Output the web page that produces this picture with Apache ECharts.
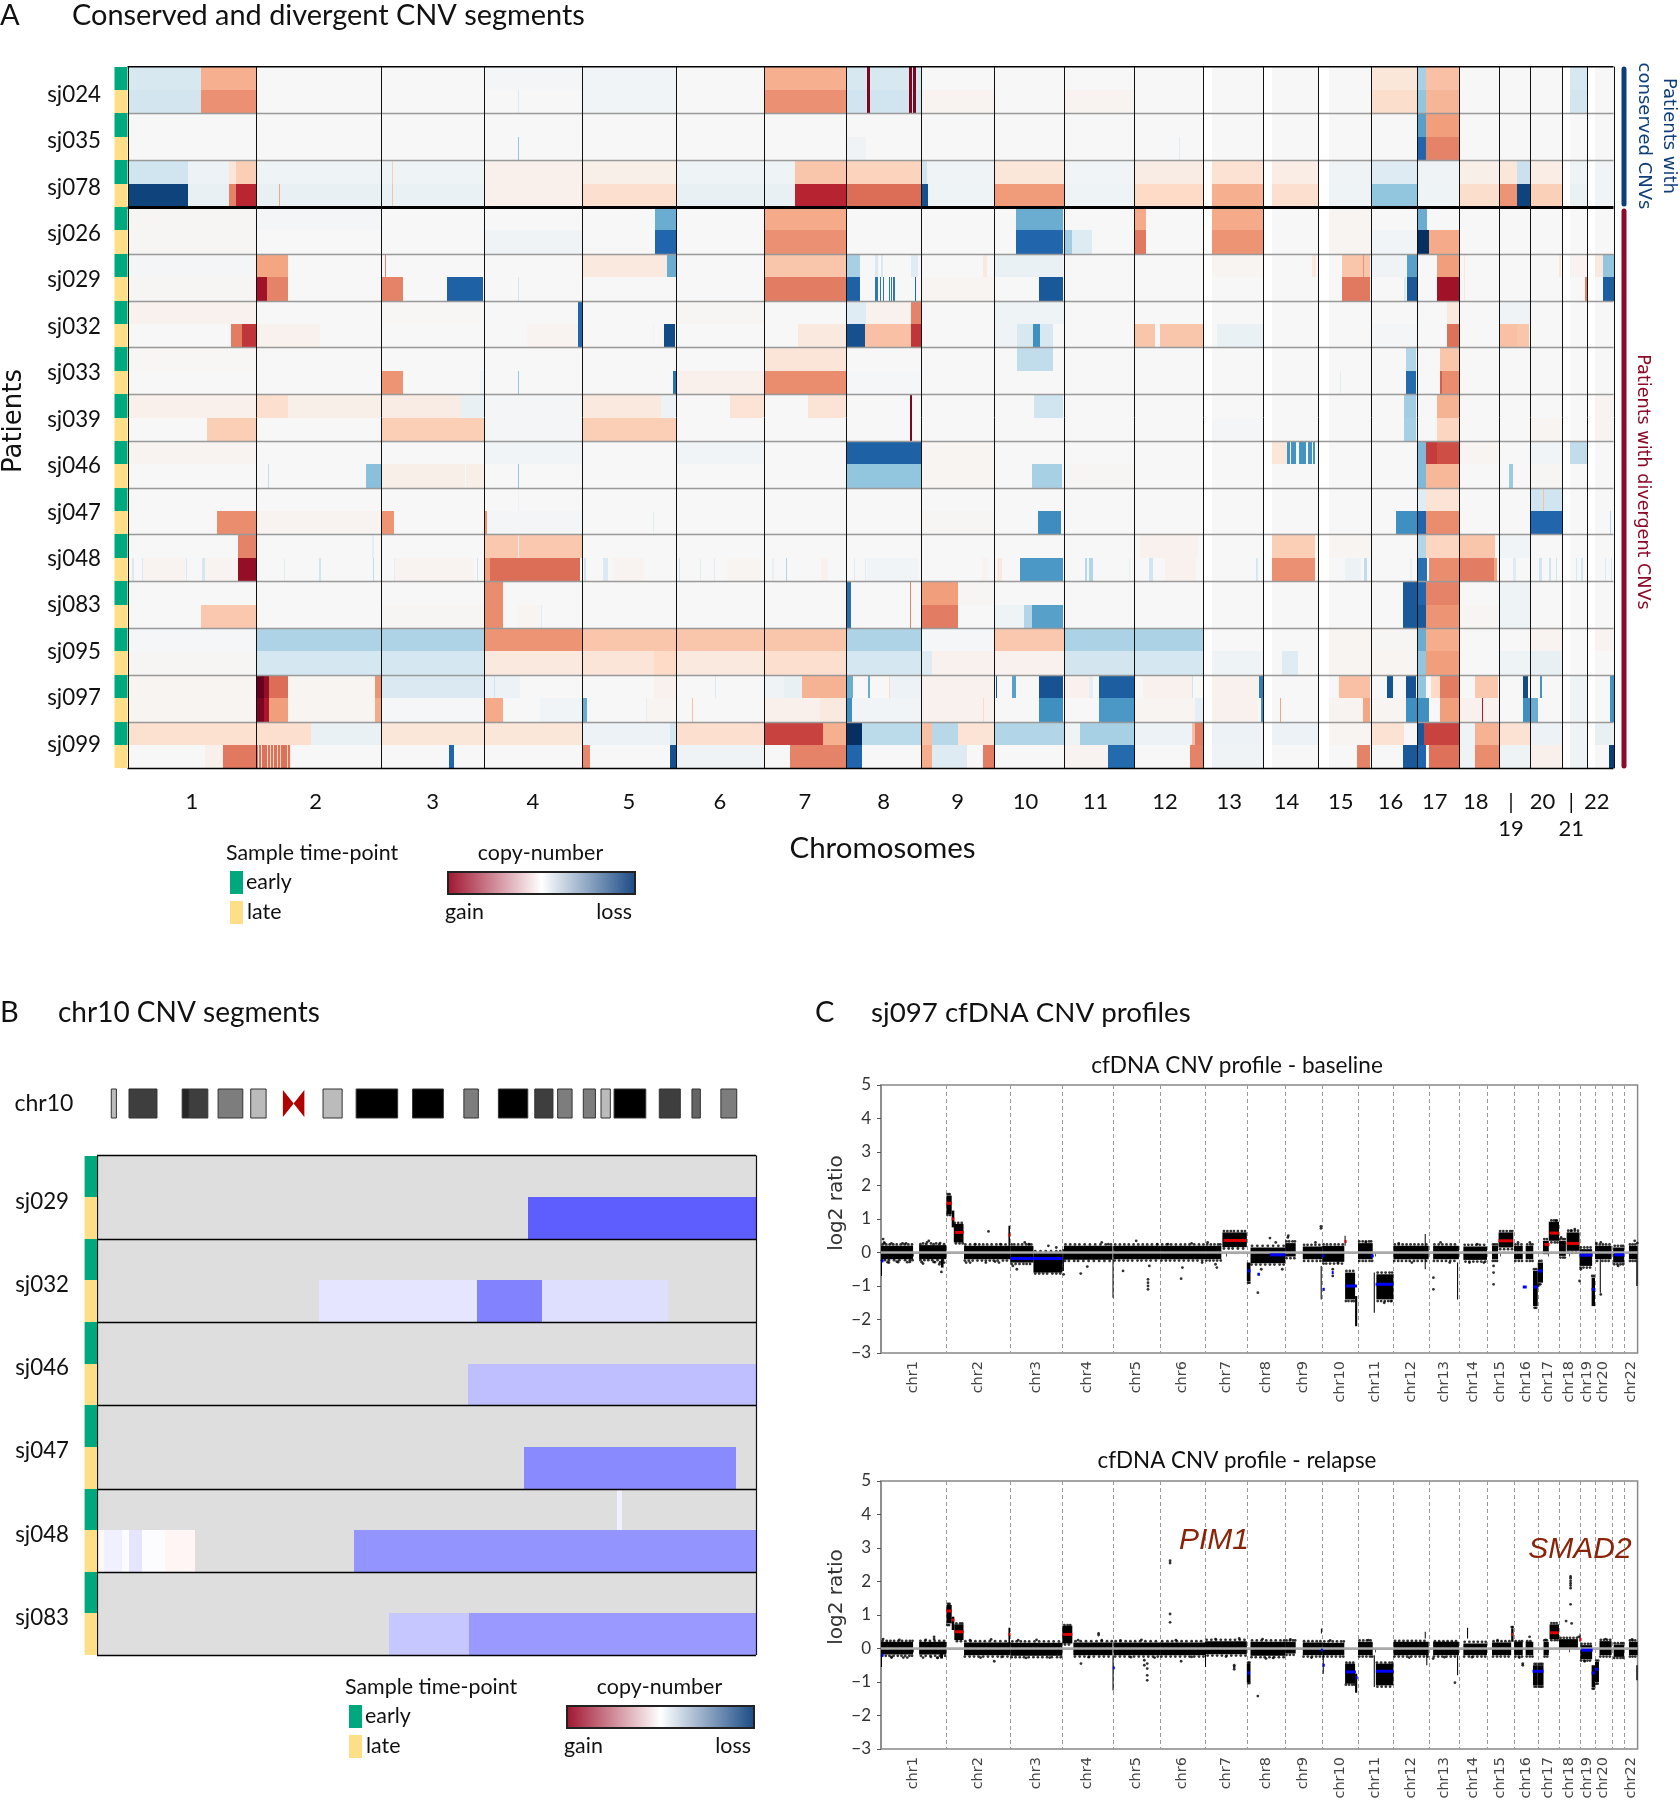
<!DOCTYPE html>
<html>
<head>
<meta charset="utf-8">
<script src="https://cdn.jsdelivr.net/npm/echarts@6/dist/echarts.min.js"></script>
<style>
  html, body { margin: 0; padding: 0; background: #fff; }
  #chart-container { width: 1680px; height: 1800px; }
</style>
</head>
<body>
<div id="chart-container"></div>
<script>
// chromosome lengths in Mb, and the unmapped start of the acrocentric ones
const chrNames = ['1','2','3','4','5','6','7','8','9','10','11','12','13','14','15','16','17','18','19','20','21','22']
const chrLengths = [249,243,198,191,181,171,159,146,141,136,135,134,115,107,103,90,81,78,59,63,48,51]
const chrGaps = [0,0,0,0,0,0,0,0,0,0,0,0,17,18,21,0,0,0,0,0,14,16]

const patients = ['sj024','sj035','sj078','sj026','sj029','sj032','sj033','sj039','sj046','sj047','sj048','sj083','sj095','sj097','sj099']
const conservedCount = 3
const timePoints = ['early','late']

// panel A: one list per sample. [chr, value] = whole chromosome, [chr, startMb, endMb, value] = segment
// value: +1 strong gain ... 0 neutral ... -1 strong loss
const sampleSegments = [
  // sj024 early
  [[1,0,142,-.17],[1,142,249,.36],[4,-.02],[5,-.03],[7,.36],[8,-.17],[8,40,46,.95],[8,123,128,.95],[8,130,136,.95],[16,.12],[17,0,16,-.33],[17,16,81,.3],[21,14,48,-.17]],
  // sj024 late
  [[1,0,142,-.19],[1,142,249,.46],[4,66,68,-.15],[5,-.03],[7,.46],[8,-.2],[8,40,46,.95],[8,123,128,.95],[8,130,136,.95],[9,.03],[11,.03],[16,.18],[17,0,16,-.4],[17,16,81,.34],[21,14,48,-.19]],
  // sj035 early
  [[17,0,16,-.55],[17,16,81,.42]],
  // sj035 late
  [[4,66,68,-.4],[8,0,38,-.04],[17,0,16,-.8],[17,16,81,.5],[12,88,90,-.12]],
  // sj078 early
  [[1,0,118,-.2],[1,118,197,-.06],[1,197,211,.12],[1,211,249,.25],[2,-.05],[3,-.05],[3,20,22,.25],[4,.05],[5,.06],[6,-.05],[7,0,61,-.05],[7,61,159,.28],[8,.23],[9,-.04],[9,0,10,-.2],[10,.12],[11,-.03],[12,.08],[13,.15],[14,.07],[15,-.04],[16,-.13],[17,-.04],[18,.06],[19,0,34,.12],[19,34,59,-.22],[20,.07],[21,-.05],[22,-.03]],
  // sj078 late
  [[1,0,118,-.93],[1,118,197,-.08],[1,197,211,.5],[1,211,249,.76],[2,-.08],[2,45,47,.4],[3,-.07],[3,20,22,.3],[4,.05],[5,.17],[6,-.08],[7,0,61,-.08],[7,61,159,.77],[8,.56],[9,-.05],[9,0,12,-.88],[10,.43],[11,-.05],[12,.2],[13,.36],[14,.17],[15,-.05],[16,-.4],[17,-.05],[18,.18],[19,0,34,.45],[19,34,59,-.93],[20,.24],[21,-.07],[22,-.03]],
  // sj026 early
  [[1,.015],[2,-.02],[5,141,181,-.5],[7,.38],[10,42,133,-.5],[12,0,24,.38],[13,.38],[15,.02],[17,0,19,-.5]],
  // sj026 late
  [[1,.015],[4,-.04],[5,141,181,-.8],[7,.46],[10,42,133,-.8],[11,0,15,-.35],[11,15,54,-.13],[12,0,24,.53],[13,.45],[15,.02],[16,-.03],[17,0,23,-1],[17,23,81,.38]],
  // sj029 early
  [[1,-.02],[2,0,62,.4],[3,7,9,.5],[5,0,165,.1],[5,165,181,-.5],[7,0,3,.7],[7,3,159,.28],[8,0,28,-.33],[8,57,62,-.15],[8,67,72,-.15],[8,126,140,-.12],[9,120,127,.1],[10,0,133,-.07],[13,.02],[14,96,104,.1],[15,47,101,.28],[15,88,90,.45],[16,0,70,-.04],[16,70,90,-.55],[17,38,81,.42],[18,9,11,.12],[20,57,60,.12],[21,.03],[22,16,30,.1],[22,30,51,-.4]],
  // sj029 late
  [[1,.015],[2,0,22,.85],[2,22,62,.5],[3,0,42,.5],[3,127,197,-.82],[4,66,68,-.2],[7,.52],[8,0,28,-.82],[8,57,62,-.72],[8,66,68,-.72],[8,72,74,-.72],[8,83,85,-.72],[8,87,89,-.72],[8,92,94,-.72],[8,133,136,-.8],[9,.02],[10,86,133,-.85],[15,47,101,.53],[16,65,68,-.15],[16,70,90,-.85],[17,38,81,.85],[18,9,11,.12],[21,43,47,.5],[22,30,51,-.83]],
  // sj032 early
  [[1,.04],[3,.01],[4,183,191,-.8],[6,.015],[8,0,38,-.12],[8,38,125,.04],[8,125,146,.5],[10,-.05],[17,58,81,.1],[19,-.04]],
  // sj032 late
  [[1,200,221,.52],[1,221,249,.72],[2,0,124,.04],[4,84,183,.03],[4,183,191,-.8],[5,138,140,.05],[5,158,180,-.9],[7,66,159,.1],[8,0,37,-.88],[8,37,125,.3],[8,125,146,.72],[10,0,44,-.04],[10,44,115,-.17],[10,75,88,-.62],[12,0,40,.28],[12,50,134,.28],[13,27,115,-.07],[16,-.02],[17,58,81,.55],[19,0,34,.3],[19,34,57,.28]],
  // sj033 early
  [[1,.01],[7,.13],[10,44,115,-.25],[16,68,87,-.3],[17,43,81,.28]],
  // sj033 late
  [[3,0,42,.45],[3,190,198,-.04],[4,66,68,-.4],[5,175,181,-.75],[6,.05],[7,.47],[8,-.01],[15,44,46,-.1],[16,68,87,-.78],[17,43,81,.47],[17,44,47,.6]],
  // sj039 early
  [[1,.05],[2,0,62,.17],[2,62,243,.06],[3,0,154,.08],[3,154,198,-.08],[4,-.02],[5,0,152,.1],[5,152,181,-.06],[6,106,171,.14],[7,86,159,.14],[8,124,127,.95],[10,77,133,-.2],[16,64,88,-.35],[17,38,81,.35],[22,.03]],
  // sj039 late
  [[1,154,249,.25],[3,.25],[4,-.02],[5,.25],[8,124,127,.95],[13,-.02],[16,64,88,-.33],[17,38,81,.22],[20,.02],[22,.03]],
  // sj046 early
  [[1,.03],[4,-.03],[6,-.03],[8,-.82],[9,.02],[14,18,47,.12],[14,47,53,-.6],[14,56,65,-.6],[14,71,85,-.6],[14,88,95,-.6],[14,98,102,-.6],[17,0,16,-.45],[17,16,38,.7],[17,38,81,.65],[18,.02],[20,-.03],[21,14,48,-.25]],
  // sj046 late
  [[2,24,26,-.25],[2,214,243,-.42],[3,0,161,.06],[3,164,198,.06],[4,66,68,-.4],[8,-.4],[9,.02],[10,74,132,-.33],[11,.015],[17,0,16,-.45],[17,16,81,.33],[19,18,26,-.37],[20,.015]],
  // sj047 early
  [[4,66,68,-.06],[17,0,16,-.12],[17,16,81,.14],[20,-.2],[20,26,28,.3]],
  // sj047 late
  [[1,174,249,.47],[2,.03],[3,0,24,.45],[4,0,6,.45],[4,6,191,-.02],[5,138,140,-.1],[9,.015],[10,85,129,-.63],[16,48,90,-.62],[17,0,16,-.8],[17,16,81,.47],[20,-.8],[22,44,46,-.3]],
  // sj048 early
  [[1,214,249,.5],[2,225,228,-.1],[4,.27],[4,66,68,-.1],[12,12,124,.04],[14,18,102,.25],[15,.02],[17,0,16,-.3],[17,16,81,.22],[18,0,69,.28],[19,-.03]],
  // sj048 late
  [[1,8,12,-.15],[1,28,30,-.15],[1,30,112,.03],[1,113,115,-.15],[1,145,150,-.18],[1,150,214,.03],[1,214,249,.88],[2,55,57,-.1],[2,122,125,-.2],[2,226,229,-.25],[3,24,27,-.1],[3,110,113,-.2],[3,185,188,-.2],[3,27,180,.03],[4,0,12,.42],[4,12,187,.56],[5,3,8,-.2],[5,40,49,-.15],[5,60,120,.03],[6,6,8,-.2],[6,48,50,-.1],[6,74,76,-.1],[6,100,165,.02],[7,42,45,-.3],[7,15,20,-.08],[7,110,125,.04],[8,15,17,-.12],[8,36,39,-.12],[8,84,89,-.32],[8,40,140,-.03],[9,118,130,.03],[10,5,15,.1],[10,51,133,-.58],[11,40,43,-.28],[11,47,55,-.3],[11,125,128,-.1],[12,30,37,-.2],[12,60,120,.04],[13,102,107,-.18],[14,18,102,.46],[15,52,84,-.06],[15,90,96,-.25],[16,76,80,-.08],[17,0,18,-.75],[17,22,81,.47],[18,0,67,.52],[18,67,74,.4],[19,26,32,-.12],[20,18,23,-.2],[20,38,41,-.2],[20,50,53,-.2],[21,26,29,-.18],[21,36,39,-.18],[22,34,36,-.15],[22,46,48,-.2]],
  // sj083 early
  [[4,0,38,.47],[8,0,10,-.75],[8,124,126,.5],[9,0,71,.42],[9,71,141,.015],[16,63,90,-.85],[17,0,16,-.8],[17,16,81,.5],[19,-.05]],
  // sj083 late
  [[1,142,249,.27],[3,.015],[4,0,38,.47],[4,67,112,.02],[4,112,114,-.12],[8,0,10,-.75],[8,124,126,.5],[9,0,71,.52],[10,0,58,-.05],[10,58,73,-.3],[10,73,133,-.55],[16,63,90,-.85],[17,0,16,-.85],[17,16,81,.45],[18,.015],[19,-.05]],
  // sj095 early
  [[1,-.01],[2,-.31],[3,-.31],[4,.45],[5,.28],[6,.28],[7,.28],[8,-.31],[9,-.01],[10,.27],[11,-.32],[12,-.32],[15,.02],[16,.015],[17,0,16,-.5],[17,16,81,.37],[20,.03],[22,.03]],
  // sj095 late
  [[1,.015],[2,-.18],[3,-.18],[4,.1],[5,0,139,.13],[5,139,181,.2],[6,.1],[7,.17],[8,-.18],[9,0,21,-.12],[9,21,141,.04],[10,.04],[11,-.19],[12,-.18],[13,-.05],[14,37,68,-.12],[15,.02],[16,.02],[17,0,16,-.4],[17,16,81,.42],[19,-.05],[20,-.08]],
  // sj097 early
  [[1,.02],[2,0,16,1],[2,16,26,.88],[2,26,62,.56],[2,62,231,.02],[2,231,243,.45],[3,-.15],[4,0,70,-.06],[4,20,22,-.2],[5,139,181,.04],[6,76,78,-.15],[7,0,73,-.04],[7,38,73,-.08],[7,73,159,.35],[8,0,14,-.5],[8,42,47,-.5],[8,83,85,.2],[8,85,146,-.06],[9,.04],[10,4,6,-.85],[10,35,42,-.55],[10,86,133,-.87],[11,0,48,.04],[11,48,56,-.1],[11,67,135,-.83],[12,18,115,.04],[12,113,115,-.2],[13,17,107,.04],[13,109,115,-.7],[15,42,101,.3],[16,31,43,-.87],[16,68,87,-.87],[17,0,16,-.4],[17,26,43,.2],[17,43,81,.52],[18,30,75,.27],[19,46,56,-.9],[20,20,23,-.6],[21,-.05],[22,44,51,-.6]],
  // sj097 late
  [[1,.02],[2,0,16,.95],[2,16,26,.82],[2,26,62,.42],[2,62,231,.02],[2,231,243,.38],[3,-.01],[4,0,38,.38],[4,110,190,-.03],[5,0,10,-.5],[5,124,126,-.1],[5,126,181,.02],[6,32,34,.3],[7,0,109,.05],[7,109,159,.1],[8,0,12,-.62],[8,12,146,-.03],[9,.04],[9,120,122,.2],[10,86,133,-.62],[11,67,135,-.58],[12,118,134,-.1],[12,0,118,.02],[13,17,107,.04],[13,112,115,-.6],[14,33,35,.4],[15,21,88,.03],[15,88,101,.4],[16,0,68,.02],[16,68,90,-.62],[17,0,23,-.62],[17,43,81,.42],[18,0,44,.04],[18,44,46,.8],[18,46,78,.04],[19,46,59,-.62],[20,0,15,-.5],[21,-.05],[22,44,51,-.6]],
  // sj099 early
  [[1,.16],[2,0,107,.17],[2,107,243,-.07],[3,.12],[4,.12],[5,0,170,-.06],[5,170,181,-.18],[6,.17],[7,0,114,.68],[7,114,159,.36],[8,0,32,-1],[8,32,146,-.27],[9,0,20,.3],[9,20,71,-.28],[9,71,141,.14],[10,-.3],[11,0,30,-.05],[11,30,135,-.33],[12,0,112,-.06],[12,112,118,.3],[12,118,134,.52],[13,-.06],[14,-.06],[15,.02],[16,0,64,.15],[17,0,13,-.85],[17,13,81,.68],[18,0,30,-.05],[18,30,78,.35],[19,.15],[20,-.06],[21,-.05],[22,-.08]],
  // sj099 late
  [[1,150,185,.05],[1,185,249,.53],[2,0,68,.55],[2,4,6,.1],[2,9,11,.15],[2,22,24,.15],[2,27,29,.2],[2,32,33,.2],[2,40,41,.2],[2,46,47,.2],[2,60,62,.2],[2,66,68,.1],[3,130,141,-.8],[5,0,15,.48],[5,170,181,-.88],[6,-.04],[7,51,159,.5],[8,0,32,-.8],[9,0,20,.37],[9,20,89,-.13],[9,119,141,.52],[11,0,85,.03],[11,85,135,-.78],[12,108,134,.5],[13,-.04],[15,77,101,.5],[16,63,90,-.85],[17,0,16,-.8],[17,23,81,.55],[18,0,30,-.04],[18,30,78,.47],[19,-.05],[20,.05],[21,-.05],[22,43,51,-.95]]
]

// panel B: chr10 segments per sample row, [row, startMb, endMb, value], blue = loss
const chr10Patients = ['sj029','sj032','sj046','sj047','sj048','sj083']
const chr10Segments = [
  [1,88.6,135.5,.63],
  [3,45.6,78.2,.1],[3,78.2,91.5,.49],[3,91.5,117.4,.13],
  [5,76.3,135.5,.25],
  [7,87.7,131.4,.46],
  [8,106.9,108,.06],
  [9,.2,1.5,-.02],[9,1.5,5.2,.06],[9,5.2,6.6,.01],[9,6.6,9.2,.1],[9,9.2,13.9,.01],[9,13.9,20.1,-.04],[9,52.8,135.5,.42],
  [11,60,76.4,.22],[11,76.4,135.5,.4]
]
// chr10 ideogram: [startMb, endMb, stain percent]
const chr10Bands = [
  [.4,1.5,25],[4.2,10.2,75],[15.6,17.1,85],[17.1,21.1,75],[23.3,28.6,50],[30.3,33.6,25],[45.8,49.9,25],[52.9,61.8,100],[65,71.6,100],
  [76,79.1,50],[83.4,89.7,100],[91.2,95.1,75],[96.1,99.2,50],[101.6,104.2,50],[105.4,107.4,25],[108.2,115,100],[117.9,122.4,75],[124.9,126.7,60],[131.1,134.5,50]
]
const chr10Centromere = [37.2,41.8]

// panel C: dense bin clouds [chr, startMb, endMb, low, high]
const baselineBands = [
  [1,0,122,-.2,.2],[1,145,249,-.2,.22],[1,0,3,-.7,-.2],[1,228,238,-.45,-.2],
  [2,0,20,1.15,1.7],[2,20,30,.75,1.25],[2,28,65,.3,.85],[2,67,243,-.2,.2],[2,236,242,.2,.8],
  [3,0,88,-.3,.2],[3,88,198,-.6,0],
  [4,0,6,-.55,.1],[4,6,191,-.22,.2],
  [5,0,3,-1.35,-.2],[5,3,181,-.2,.2],
  [6,0,171,-.2,.2],
  [7,0,62,-.2,.2],[7,66,159,.16,.6],
  [8,0,14,-.85,-.3],[8,14,146,-.32,.15],
  [9,0,40,-.12,.28],[9,67,141,-.2,.18],[9,135,139,-1.4,-.4],
  [10,0,84,-.28,.2],[10,85,88,.2,.5],[10,87,125,-1.4,-.6],[10,125,133,-2.2,-1.3],
  [11,0,56,-.2,.28],[11,60,64,-1.8,-.6],[11,70,135,-1.4,-.65],
  [12,0,134,-.2,.2],[12,119,122,-.5,.55],
  [13,17,115,-.2,.2],[13,108,112,-1.4,-.3],
  [14,17,107,-.22,.18],
  [15,19,42,-.2,.2],[15,44,100,.15,.6],
  [16,0,33,-.2,.2],[16,44,73,-.2,.2],[16,72,90,-1.6,-.55],
  [17,0,20,-.9,-.3],[17,20,42,-.05,.35],[17,42,81,.35,.92],
  [18,0,26,-.1,.35],[18,29,78,.05,.6],
  [19,0,48,-.4,.1],[19,46,59,-1.6,-.75],
  [20,0,63,-.2,.2],[20,18,22,-1.2,-.2],
  [21,6,48,-.3,.15],
  [22,18,51,-.2,.2],[22,46,51,-1,-.2]
]
const relapseBands = [
  [1,0,122,-.18,.2],[1,145,249,-.18,.2],[1,0,3,-.55,-.1],[1,225,236,-.3,.2],
  [2,0,20,.75,1.3],[2,20,30,.55,.95],[2,30,65,.25,.72],[2,67,243,-.2,.18],[2,236,242,.15,.62],
  [3,0,198,-.22,.17],
  [4,0,38,.15,.68],[4,42,191,-.2,.18],
  [5,0,4,-1.25,-.2],[5,4,181,-.2,.18],
  [6,0,171,-.2,.18],
  [7,0,159,-.17,.22],[7,0,3,-.55,-.1],
  [8,0,14,-1,-.45],[8,14,146,-.22,.2],
  [9,0,40,-.15,.2],[9,67,141,-.2,.18],[9,136,139,.45,.6],
  [10,0,84,-.2,.17],[10,2,5,-.75,-.05],[10,87,125,-1.05,-.45],[10,125,133,-1.32,-.75],
  [11,0,56,-.2,.2],[11,60,64,-1.15,-.2],[11,68,135,-1.1,-.45],
  [12,0,134,-.2,.2],[12,125,128,-.5,-.05],[12,119,122,.3,.5],
  [13,17,115,-.2,.2],[13,108,112,-.8,-.2],
  [14,17,107,-.2,.15],[14,31,35,.3,.62],
  [15,19,92,-.2,.18],[15,92,101,.2,.6],
  [16,0,33,-.2,.2],[16,44,73,-.2,.2],[16,72,90,-1.1,-.5],
  [17,0,22,-1.1,-.5],[17,22,42,-.2,.2],[17,45,81,.28,.72],
  [18,0,72,0,.28],
  [19,0,3,.2,.45],[19,3,48,-.32,.1],[19,46,59,-1.15,-.5],
  [20,0,15,-1,-.4],[20,17,63,-.2,.22],
  [21,8,48,-.25,.12],
  [22,18,51,-.2,.2],[22,46,51,-.95,-.5]
]
// segment means [chr, startMb, endMb, log2 ratio]
const baselineMeans = [
  [1,2,5,-.25],[2,0,20,1.47],[2,20,30,1],[2,32,65,.6],[2,236,242,.52],[3,0,198,-.18],[7,70,157,.36],[8,1,14,-.55],[8,40,50,-.65],[8,88,146,-.07],
  [10,0,4,-.1],[10,2,6,-1.1],[10,36,42,-.6],[10,85,88,.33],[10,88,132,-1],[11,50,60,-.1],[11,67,135,-.95],[15,44,98,.35],[16,33,48,-1.03],[16,72,90,-1.03],
  [17,0,20,-.55],[17,25,45,.24],[17,45,81,.58],[18,29,76,.27],[19,0,50,-.08],[19,46,59,-1.1],[21,10,48,-.07]
]
const relapseMeans = [
  [1,2,5,-.2],[2,0,20,1.12],[2,20,30,.85],[2,32,65,.5],[2,236,242,.42],[4,3,38,.42],[5,1,8,-.58],[8,1,12,-.73],[9,136,141,-.05],[10,2,5,-.5],
  [10,87,128,-.7],[10,127,133,-.87],[11,68,135,-.68],[15,92,100,.42],[16,70,90,-.68],[17,0,22,-.68],[17,47,81,.47],[19,0,3,.27],[19,6,50,-.05],[19,46,59,-.73],[20,0,15,-.62]
]
// single bins outside the clouds [chr, Mb, log2 ratio]
const baselinePoints = [
  [1,8,.4],[1,12,.3],[1,30,-.3],[1,60,-.27],[1,95,.27],[1,110,-.28],[1,160,-.33],[1,175,.3],[1,182,.35],[1,200,-.28],[1,222,-.35],[1,230,-.58],[1,240,-.3],[1,225,.28],
  [2,75,-.3],[2,110,.25],[2,160,.63],[2,185,-.27],[2,205,.25],
  [3,10,-.4],[3,25,-.5],[3,55,.3],[3,70,.25],[3,145,.2],[3,175,.15],
  [4,5,-.65],[4,70,-.63],[4,95,-.42],[4,150,.3],[4,175,.25],
  [5,40,-.55],[5,90,.35],[5,135,-.8],[5,135,-.9],[5,135,-1],[5,135,-1.1],[5,140,-.4],[5,170,.25],
  [6,30,.25],[6,80,-.78],[6,85,-.45],[6,120,.27],[6,160,-.3],
  [7,40,-.35],[7,45,-.45],[7,10,.3],
  [8,42,-1.2],[8,55,-.5],[8,88,.43],[8,110,.3],[8,135,-.5],
  [9,10,.45],[9,12,.5],[9,115,.3],[9,136,.72],[9,136,.78],
  [10,40,-.5],[10,40,-.7],[10,60,-.3],
  [11,30,.3],[11,100,-1.5],[11,125,-1.45],
  [12,20,.27],[12,70,-.3],
  [13,18,-.75],[13,18,-1.1],[13,45,.3],[13,80,-.3],
  [14,40,-.3],[14,70,.25],[14,95,-.3],
  [15,25,-.4],[15,25,-.6],[15,25,-.95],
  [16,15,.3],[16,60,.3],
  [17,2,-1],[17,70,.95],[18,8,.45],[18,60,.7],[18,45,.65],
  [19,5,-.5],[19,0,-.85],[20,22,.3],[20,5,.28],[20,22,-1.25],
  [21,25,-.4],[22,40,.35],[22,50,.28]
]
const relapsePoints = [
  [6,38,2.62],[6,38,2.55],[6,38,1.03],[6,38,.78],
  [18,44,2.15],[18,44,2.1],[18,44,2.02],[18,44,1.95],[18,44,1.88],[18,44,1.8],[18,44,1.32],[18,27,.82],[18,48,.75],
  [4,138,.45],[4,138,.4],[2,182,-.38],[1,202,.35],[1,202,.28],
  [5,132,-.45],[5,132,-.6],[5,132,-.8],[5,132,-.95],[5,121,-.35],[5,121,-.5],
  [7,111,-.5],[7,111,-.55],[7,111,-.62],[8,42,-1.42],[4,71,-.45],[6,80,-.38],[13,100,-1.02],[13,17,-.3],[16,59,.35],[16,33,-.45],[16,33,-.5],[8,73,-.3],[18,75,.35],
  [1,8,.28],[1,40,-.25],[1,70,.26],[1,100,-.27],[1,170,.26],[1,190,-.25],[1,215,-.28],[2,90,.25],[2,130,-.27],[2,170,.27],[2,210,-.25],
  [3,30,.25],[3,60,-.28],[3,100,.26],[3,150,-.27],[4,60,.25],[4,100,-.26],[4,150,.25],[5,30,.24],[5,70,-.26],[5,110,.26],[5,160,-.27],
  [6,60,.25],[6,120,-.25],[7,40,.28],[7,80,-.24],[7,130,.3],[8,60,.28],[8,100,-.28],[9,20,.27],[9,100,-.27],[10,30,.24],[11,40,.25],[12,60,-.27],[13,60,-.26],[14,50,-.26],
  [15,40,.25],[16,20,-.27],[17,30,.26],[19,20,-.38],[20,40,.28],[22,30,.27]
]
// bins sticking out of the cloud edges: [chr, log2 ratio, [Mb positions]]
const baselineEdges = [
  [1,.24,[6,20,33,47,60,75,90,104,118]],[1,.27,[13,40,82,160,190,210]],[1,.25,[150,172,200,222,240]],[1,-.23,[4,15,30,50,70,92,110,120,150,165,180,195,215,235]],[1,-.29,[25,65,100,155,205,225]],
  [2,.24,[72,90,108,125,140,155,172,190,208,225]],[2,-.24,[70,85,100,118,135,150,165,180,195,215,230]],[2,-.3,[90,150,200]],[2,1.74,[5,12]],[2,1.12,[4,14]],[2,.88,[32,45,58]],[2,.27,[36,50,62]],
  [3,.24,[5,15,30,45,60,72,80]],[3,-.34,[5,20,35,50,62,75]],[3,-.63,[95,110,125,140,160,175,190]],[3,.04,[95,115,135,155,175,190]],
  [4,.24,[12,30,48,65,85,105,125,145,165,185]],[4,-.25,[10,25,45,60,80,100,120,140,160,180]],
  [5,.24,[10,28,45,62,80,98,115,132,150,170]],[5,-.24,[8,25,42,58,75,95,110,128,145,165]],
  [6,.24,[8,25,42,60,78,95,112,130,148,165]],[6,-.24,[5,22,38,55,72,90,108,125,142,160]],
  [7,.24,[8,22,36,50,58]],[7,-.24,[5,18,32,46,60]],[7,.64,[72,85,98,110,125,140,152]],[7,.12,[72,90,105,125,145]],
  [8,-.36,[18,35,52,70,88,105,125,140]],[8,.2,[20,40,60,80,100,120,140]],[8,-.9,[5,10]],
  [9,.33,[5,15,28,37]],[9,-.17,[5,20,35]],[9,.23,[72,85,100,115,130]],[9,-.25,[72,88,104,120,134]],
  [10,.24,[5,18,32,48,62,78]],[10,-.33,[5,15,30,45,60,75]],[10,-.55,[92,105,118]],[10,-1.45,[90,100,112,120]],
  [11,.33,[5,18,30,42,50]],[11,-.25,[5,18,30,44,54]],[11,-.6,[75,90,105,120,130]],[11,-1.45,[75,88,102,115,128]],
  [12,.24,[5,20,35,50,65,80,95,110,125]],[12,-.25,[3,18,32,48,62,78,92,108,124]],
  [13,.24,[22,38,52,68,84,100]],[13,-.25,[20,34,50,66,82,98]],
  [14,.23,[22,36,50,66,80,96]],[14,-.27,[25,40,55,70,85,100]],
  [15,.24,[23,30,38]],[15,-.25,[22,30,38]],[15,.64,[50,62,75,88,96]],[15,.1,[50,65,80,95]],
  [16,.24,[5,15,28,50,62,70]],[16,-.25,[5,18,30,48,60,70]],[16,-.5,[76,84]],[16,-1.65,[78,84]],
  [17,-.25,[6,14]],[17,-.95,[4,10]],[17,.4,[25,35]],[17,.96,[52,62,72]],[17,.3,[52,65,75]],
  [18,.4,[5,15,22]],[18,-.15,[5,15,22]],[18,.65,[35,48,60,72]],[18,0,[35,50,65]],
  [19,.15,[5,18,30,42]],[19,-.45,[4,15,28,40]],[19,-.7,[48,55]],
  [20,.24,[5,18,30,42,55]],[20,-.25,[8,28,40,52]],
  [21,.2,[12,24,36,44]],[21,-.35,[10,22,34,44]],
  [22,.24,[22,32,42]],[22,-.25,[22,32,42]]
]
const relapseEdges = [
  [1,.23,[6,22,36,50,66,80,96,110,120,150,168,186,204,222,240]],[1,-.22,[4,18,32,48,64,78,92,108,118,152,170,188,206,224,244]],[1,-.27,[40,85,160,215]],
  [2,.22,[72,92,110,128,146,165,185,205,225]],[2,-.24,[70,88,105,122,140,158,176,195,215,232]],[2,.7,[3,10]],[2,1.33,[6,12]],[2,.75,[38,52,60]],[2,.22,[40,55]],
  [3,.21,[8,24,40,56,72,92,110,128,146,165,185]],[3,-.26,[5,20,36,52,70,88,105,122,140,158,178,192]],
  [4,.7,[8,20,30]],[4,.12,[10,25]],[4,.22,[50,70,90,110,130,150,170,188]],[4,-.24,[48,66,84,102,120,140,158,176]],
  [5,.22,[12,30,50,68,86,105,125,145,165]],[5,-.24,[10,28,46,64,82,100,118,136,154,172]],
  [6,.22,[8,28,46,64,82,100,120,138,156]],[6,-.24,[5,22,40,58,76,95,112,130,148,165]],
  [7,.26,[6,24,42,60,78,96,114,132,150]],[7,-.21,[10,28,46,64,82,100,118,136,154]],
  [8,.24,[20,38,56,74,92,110,128,142]],[8,-.26,[18,34,52,68,86,104,122,140]],[8,-1.03,[5,10]],[8,-.42,[5,10]],
  [9,.24,[5,18,30,38]],[9,-.19,[5,18,32]],[9,.22,[72,88,104,120,134]],[9,-.24,[70,86,102,118,132]],
  [10,.21,[8,24,40,56,72,82]],[10,-.24,[5,20,36,52,68,80]],[10,-.42,[92,105,118]],[10,-1.08,[90,102,114,122]],
  [11,.24,[6,20,34,48]],[11,-.24,[5,18,32,46,54]],[11,-.42,[72,88,104,120,130]],[11,-1.14,[74,90,106,122]],
  [12,.23,[6,22,38,54,70,86,102,118]],[12,-.24,[4,20,36,52,68,84,100,116,130]],
  [13,.22,[24,40,56,72,88,104]],[13,-.24,[20,36,52,68,84,100]],
  [14,.2,[22,40,56,72,88,102]],[14,-.24,[20,38,54,70,86,100]],
  [15,.22,[25,40,55,70,85]],[15,-.24,[23,38,52,68,82]],[15,.64,[94,98]],
  [16,.22,[6,20,30,50,62]],[16,-.24,[5,18,30,48,60,70]],[16,-1.14,[78,85]],[16,-.46,[78,85]],
  [17,-1.14,[6,12,18]],[17,-.46,[5,12,18]],[17,.24,[25,35]],[17,-.24,[26,36]],[17,.76,[52,62,72]],[17,.25,[52,65,75]],
  [18,.32,[6,18,30,42,55,68]],
  [19,.14,[8,20,32,42]],[19,-.36,[6,18,30,40]],[19,-1.2,[50,55]],
  [20,-1.05,[4,10]],[20,-.36,[5,12]],[20,.26,[22,34,46,58]],[20,-.24,[20,32,44,56]],
  [21,.16,[12,24,36,44]],[21,-.28,[10,22,34,44]],
  [22,.24,[22,32,42]],[22,-.24,[22,32,42]]
]
const geneNotes = ['PIM1','SMAD2']

// colour scales
const gainLossColors = ['#053061','#2166ac','#4393c3','#92c5de','#d1e5f0','#f7f7f7','#fddbc7','#f4a582','#d6604d','#b2182b','#67001f']
const chr10Colors = ['#ff0000','#ffffff','#0000ff']
const stainColor = s => { const g = Math.round(255 * (1 - s / 100) * .98); return 'rgb(' + g + ',' + g + ',' + g + ')' }
const timeColors = { early: '#00a97d', late: '#fedf87' }
const fontMain = 'Lato'
const fontWide = '"DejaVu Sans"'

// positions along the genome
let chrStarts = []
let total = 0
for (let i = 0; i < chrLengths.length; i++) {
  chrStarts.push(total)
  total += chrLengths[i]
}
const chrCenters = chrStarts.map((s, i) => s + chrLengths[i] / 2)
// the reference sets the two digit numbers a little left of the chromosome middle
const chrLabelPos = chrCenters.map((c, i) => i == 1 ? c - 6 : (i >= 9 ? c - 7 : c))
const nearestIn = (list, v) => {
  let best = 0
  for (let i = 0; i < list.length; i++) {
    if (Math.abs(list[i] - v) < Math.abs(list[best] - v)) best = i
  }
  return best
}
const sampleNames = patients.flatMap(p => timePoints.map(t => p + ' ' + t))
const chr10SampleNames = chr10Patients.flatMap(p => timePoints.map(t => p + ' ' + t))

let heatData = []
for (let row = 0; row < sampleNames.length; row++) {
  for (let c = 0; c < chrLengths.length; c++) {
    heatData.push([chrStarts[c] + chrGaps[c], chrStarts[c] + chrLengths[c], row, 0])
  }
  for (const seg of sampleSegments[row]) {
    const c = seg[0] - 1
    if (seg.length == 2) {
      heatData.push([chrStarts[c] + chrGaps[c], chrStarts[c] + chrLengths[c], row, seg[1]])
    } else {
      heatData.push([chrStarts[c] + seg[1], chrStarts[c] + seg[2], row, seg[3]])
    }
  }
}
const toGenome = list => list.map(s => [chrStarts[s[0] - 1] + s[1], chrStarts[s[0] - 1] + s[2], s[3], s[4]])
const pointsToGenome = (list, edges) => {
  let out = list.map(p => [chrStarts[p[0] - 1] + p[1], p[2]])
  for (const e of edges) {
    for (const mb of e[2]) out.push([chrStarts[e[0] - 1] + mb, e[1]])
  }
  return out
}

function segmentRect(params, api) {
  const a = api.coord([api.value(0), api.value(2)])
  const b = api.coord([api.value(1), api.value(2)])
  const h = api.size([0, 1])[1]
  const left = Math.round(a[0])
  const right = Math.max(left + 1, Math.round(b[0]))
  const top = Math.round(a[1] - h / 2)
  const bottom = Math.round(a[1] + h / 2)
  return { type: 'rect', shape: { x: left, y: top, width: right - left, height: bottom - top }, style: { fill: api.visual('color') } }
}
function timeStrip(params, api) {
  const c = api.coord([0, api.value(0)])
  const h = api.size([0, 1])[1]
  const sys = params.coordSys
  const top = Math.round(c[1] - h / 2)
  return { type: 'rect', shape: { x: sys.x, y: top, width: sys.width, height: Math.round(c[1] + h / 2) - top }, style: { fill: timeColors[timePoints[api.value(0) % 2]] } }
}
function vLines(color, width, dash) {
  return function (params, api) {
    const sys = params.coordSys
    const x = Math.round(api.coord([api.value(0), 0])[0]) + .5
    return { type: 'line', shape: { x1: x, y1: sys.y, x2: x, y2: sys.y + sys.height }, style: { stroke: color, lineWidth: width, lineDash: dash } }
  }
}
function patientLines(params, i, count, thickAfter, color) {
  const sys = params.coordSys
  const h = sys.height / count
  const y = Math.round(sys.y + h * (i + 1)) + .5
  let kids = [{ type: 'line', shape: { x1: sys.x, y1: y, x2: sys.x + sys.width, y2: y }, style: { stroke: i == thickAfter || i == count - 1 ? '#000' : color, lineWidth: i == thickAfter ? 3 : 1.5 } }]
  if (i == 0) {
    kids.push({ type: 'line', shape: { x1: sys.x, y1: sys.y, x2: sys.x + sys.width, y2: sys.y }, style: { stroke: '#000', lineWidth: 1.5 } })
  }
  return { type: 'group', children: kids }
}
function cloudRect(params, api) {
  const a = api.coord([api.value(0), api.value(3)])
  const b = api.coord([api.value(1), api.value(2)])
  return { type: 'rect', shape: { x: a[0], y: a[1], width: Math.max(1, b[0] - a[0]), height: Math.max(1, b[1] - a[1]) }, style: { fill: '#000' } }
}
function meanBar(params, api) {
  const a = api.coord([api.value(0), api.value(2)])
  const b = api.coord([api.value(1), api.value(2)])
  return { type: 'line', shape: { x1: a[0], y1: a[1], x2: Math.max(a[0] + 2, b[0]), y2: a[1] }, style: { stroke: api.value(2) > 0 ? '#e00000' : '#0000ff', lineWidth: 3 } }
}

function cnvSeries(axis, bands, means, points, edges) {
  return [
    { type: 'custom', xAxisIndex: axis.x, yAxisIndex: axis.y, data: chrStarts.slice(1), renderItem: vLines('#999', 1, [4, 3]), encode: { x: 0 }, silent: true },
    { type: 'custom', xAxisIndex: axis.x, yAxisIndex: axis.y, data: toGenome(bands), renderItem: cloudRect, encode: { x: [0, 1], y: [2, 3] }, silent: true },
    { type: 'scatter', xAxisIndex: axis.x, yAxisIndex: axis.y, data: pointsToGenome(points, edges), symbol: 'circle', symbolSize: 2.8, itemStyle: { color: '#000' }, silent: true,
      markLine: { silent: true, symbol: 'none', label: { show: false }, lineStyle: { color: '#aaa', width: 2.5, type: 'solid' }, data: [{ yAxis: 0 }], animation: false } },
    { type: 'custom', xAxisIndex: axis.x, yAxisIndex: axis.y, data: means.map(m => [chrStarts[m[0] - 1] + m[1], chrStarts[m[0] - 1] + m[2], m[3]]), renderItem: meanBar, encode: { x: [0, 1], y: 2 }, silent: true, z: 5 }
  ]
}

function txt(text, x, y, size, extra) {
  const o = extra || {}
  return {
    type: 'text', x: x, y: y, rotation: o.rotation || 0, z: 20, silent: true,
    style: {
      text: text, fill: o.color || '#111', fontSize: size, fontFamily: o.font || fontMain, fontStyle: o.fontStyle || 'normal',
      align: o.align || 'left', verticalAlign: 'middle', textAlign: o.align || 'left', textVerticalAlign: 'middle'
    }
  }
}
function legend(x, y, barX, barW) {
  return [
    txt('Sample time-point', x, y, 21.4),
    { type: 'rect', shape: { x: x + 4, y: y + 18, width: 13, height: 23 }, style: { fill: timeColors.early }, silent: true },
    { type: 'rect', shape: { x: x + 4, y: y + 48, width: 13, height: 23 }, style: { fill: timeColors.late }, silent: true },
    txt('early', x + 20, y + 29, 21.4),
    txt('late', x + 21, y + 59, 21.4),
    txt('copy-number', barX + barW / 2 - 1, y, 21.4, { align: 'center' }),
    { type: 'rect', shape: { x: barX, y: y + 19, width: barW, height: 22 }, silent: true,
      style: { stroke: '#222', lineWidth: 2, fill: { type: 'linear', x: 0, y: 0, x2: 1, y2: 0, colorStops: [{ offset: 0, color: '#a01530' }, { offset: .5, color: '#ffffff' }, { offset: 1, color: '#1a4a85' }] } } },
    txt('gain', barX - 3, y + 59, 21.4),
    txt('loss', barX + barW - 3, y + 59, 21.4, { align: 'right' })
  ]
}

const graphics = [
  txt('A', 0, 16, 29),
  txt('Conserved and divergent CNV segments', 72, 16, 28.9),
  txt('Patients', 14, 421, 26, { font: fontWide, rotation: Math.PI / 2, align: 'center' }),
  txt('Chromosomes', 882.5, 848, 29.5, { align: 'center' }),
  { type: 'line', shape: { x1: 1624, y1: 69, x2: 1624, y2: 204 }, style: { stroke: '#0f3d7a', lineWidth: 5, lineCap: 'round' }, silent: true },
  { type: 'line', shape: { x1: 1624, y1: 211, x2: 1624, y2: 766 }, style: { stroke: '#8c0a28', lineWidth: 5, lineCap: 'round' }, silent: true },
  txt('Patients with', 1669, 136, 18, { font: fontWide, color: '#0f3d7a', rotation: -Math.PI / 2, align: 'center' }),
  txt('conserved CNVs', 1644, 136, 18, { font: fontWide, color: '#0f3d7a', rotation: -Math.PI / 2, align: 'center' }),
  txt('Patients with divergent CNVs', 1643, 482, 17.6, { font: fontWide, color: '#8c0a28', rotation: -Math.PI / 2, align: 'center' }),
  ...legend(226, 853, 448, 187),
  txt('B', 0, 1013, 29),
  txt('chr10 CNV segments', 58, 1013, 28),
  ...legend(345, 1687, 567, 187),
  txt('C', 815, 1013, 29),
  txt('sj097 cfDNA CNV profiles', 871, 1013, 27.7),
  txt('cfDNA CNV profile - baseline', 1237, 1066, 22.6, { align: 'center' }),
  txt('cfDNA CNV profile - relapse', 1237, 1461, 22.4, { align: 'center' }),
  txt('log2 ratio', 837, 1203, 20, { font: fontWide, color: '#333', rotation: Math.PI / 2, align: 'center' }),
  txt('log2 ratio', 837, 1597, 20, { font: fontWide, color: '#333', rotation: Math.PI / 2, align: 'center' }),
  txt(geneNotes[0], 1214, 1541, 30, { font: '"Liberation Sans"', fontStyle: 'italic', color: '#8a2408', align: 'center' }),
  txt(geneNotes[1], 1580, 1550, 30, { font: '"Liberation Sans"', fontStyle: 'italic', color: '#8a2408', align: 'center' })
]

const hiddenValue = (grid, min, max) => ({ type: 'value', gridIndex: grid, min: min, max: max, show: false })
const hiddenCategory = (grid, data) => ({ type: 'category', gridIndex: grid, data: data, inverse: true, show: false })
const patientAxis = (grid, data, margin) => ({
  type: 'category', gridIndex: grid, data: data, inverse: true, position: 'left',
  axisLine: { show: false }, axisTick: { show: false }, splitLine: { show: false },
  axisLabel: { interval: 0, margin: margin, fontFamily: fontMain, fontSize: 22.3, color: '#111' }
})
const cnvX = grid => ({
  type: 'value', gridIndex: grid, min: 0, max: total,
  splitLine: { show: false }, axisLine: { lineStyle: { color: '#888', width: 1.5 } },
  axisTick: { customValues: chrCenters, length: 4, lineStyle: { color: '#555' } },
  axisLabel: { customValues: chrCenters, rotate: 90, margin: 8, hideOverlap: false, showMinLabel: true, showMaxLabel: true, fontFamily: fontWide, fontSize: 14.5, color: '#444', formatter: v => 'chr' + chrNames[nearestIn(chrCenters, v)] }
})
const cnvY = grid => ({
  type: 'value', gridIndex: grid, min: -3, max: 5, interval: 1,
  splitLine: { show: false }, axisLine: { show: true, lineStyle: { color: '#888', width: 1.5 } },
  axisTick: { show: true, length: 4, lineStyle: { color: '#555' } },
  axisLabel: { margin: 10, fontFamily: fontMain, fontSize: 17, color: '#333', formatter: v => String(v).replace('-', '\u2212') }
})

let option = {
  animation: false,
  backgroundColor: '#fff',
  graphic: graphics,
  grid: [
    { left: 127.5, top: 66.7, width: 1486, height: 701.6, outerBoundsMode: 'none' },
    { left: 114.5, top: 66.7, width: 13, height: 701.6, outerBoundsMode: 'none' },
    { left: 109.4, top: 1089, width: 632, height: 29, outerBoundsMode: 'none' },
    { left: 97, top: 1155.5, width: 659, height: 499.5, show: true, backgroundColor: '#dedede', borderWidth: 0, outerBoundsMode: 'none' },
    { left: 84.6, top: 1155.5, width: 12.4, height: 499.5, outerBoundsMode: 'none' },
    { left: 881, top: 1085, width: 756.6, height: 268, show: true, borderColor: '#888', borderWidth: 1.5, outerBoundsMode: 'none' },
    { left: 881, top: 1481, width: 756.6, height: 268, show: true, borderColor: '#888', borderWidth: 1.5, outerBoundsMode: 'none' },
    // the patient names sit on their own slightly shifted bands
    { left: 127.5, top: 71.4, width: 1486, height: 696.2, outerBoundsMode: 'none' },
    { left: 97, top: 1159.8, width: 659, height: 499.5, outerBoundsMode: 'none' }
  ],
  xAxis: [
    {
      type: 'value', gridIndex: 0, min: 0, max: total,
      axisLine: { show: false }, axisTick: { show: false }, splitLine: { show: false },
      axisLabel: {
        customValues: chrLabelPos, margin: 20, hideOverlap: false, showMinLabel: true, showMaxLabel: true, lineHeight: 27, fontFamily: fontMain, fontSize: 22, color: '#111',
        formatter: v => { const n = chrNames[nearestIn(chrLabelPos, v)]; return n == '19' || n == '21' ? '|\n' + n : n }
      }
    },
    hiddenValue(1, 0, 1),
    hiddenValue(2, 0, 135.5),
    hiddenValue(3, 0, 135.5),
    hiddenValue(4, 0, 1),
    cnvX(5),
    cnvX(6),
    hiddenValue(7, 0, 1),
    hiddenValue(8, 0, 1)
  ],
  yAxis: [
    hiddenCategory(0, sampleNames),
    patientAxis(7, patients, 26.5),
    hiddenCategory(1, sampleNames),
    { type: 'category', gridIndex: 2, data: ['chr10'], axisLine: { show: false }, axisTick: { show: false }, axisLabel: { margin: 36, fontFamily: fontMain, fontSize: 23, color: '#111' } },
    hiddenCategory(3, chr10SampleNames),
    patientAxis(8, chr10Patients, 28),
    hiddenCategory(4, chr10SampleNames),
    cnvY(5),
    cnvY(6)
  ],
  visualMap: [
    { type: 'continuous', show: false, seriesIndex: 0, dimension: 3, min: -1, max: 1, inRange: { color: gainLossColors } },
    { type: 'continuous', show: false, seriesIndex: 5, dimension: 3, min: -1, max: 1, inRange: { color: chr10Colors } }
  ],
  series: [
    // 0 panel A segments
    { type: 'custom', xAxisIndex: 0, yAxisIndex: 0, data: heatData, renderItem: segmentRect, encode: { x: [0, 1], y: 2 }, silent: true },
    // 1, 2 panel A grid lines
    { type: 'custom', xAxisIndex: 0, yAxisIndex: 0, data: patients.map((p, i) => [0, i]), encode: { x: 0, y: 1 }, silent: true,
      renderItem: (params, api) => patientLines(params, params.dataIndex, patients.length, conservedCount - 1, '#999') },
    { type: 'custom', xAxisIndex: 0, yAxisIndex: 0, data: chrStarts.concat([total]), encode: { x: 0 }, renderItem: vLines('#111', 1), silent: true },
    // 3 time point strip A
    { type: 'custom', xAxisIndex: 1, yAxisIndex: 2, data: sampleNames.map((n, i) => [i]), encode: { y: 0 }, renderItem: timeStrip, silent: true },
    // 4 ideogram
    { type: 'custom', xAxisIndex: 2, yAxisIndex: 3, data: chr10Bands, encode: { x: [0, 1] }, silent: true,
      renderItem: (params, api) => {
        const sys = params.coordSys
        const a = api.coord([api.value(0), 0])[0]
        const b = api.coord([api.value(1), 0])[0]
        return { type: 'rect', shape: { x: a, y: sys.y, width: b - a, height: sys.height }, style: { fill: stainColor(api.value(2)), stroke: '#333', lineWidth: 1 } }
      }
    },
    // 5 panel B segments
    { type: 'custom', xAxisIndex: 3, yAxisIndex: 4, data: chr10Segments.map(s => [s[1], s[2], s[0], s[3]]), renderItem: segmentRect, encode: { x: [0, 1], y: 2 }, silent: true },
    // 6, 7 panel B lines
    { type: 'custom', xAxisIndex: 3, yAxisIndex: 4, data: chr10Patients.map((p, i) => [0, i]), encode: { x: 0, y: 1 }, silent: true,
      renderItem: (params, api) => patientLines(params, params.dataIndex, chr10Patients.length, -1, '#000') },
    { type: 'custom', xAxisIndex: 3, yAxisIndex: 4, data: [0, 135.4], encode: { x: 0 }, renderItem: vLines('#111', 1.2), silent: true },
    // 8 time point strip B
    { type: 'custom', xAxisIndex: 4, yAxisIndex: 6, data: chr10SampleNames.map((n, i) => [i]), encode: { y: 0 }, renderItem: timeStrip, silent: true },
    // 9 centromere
    { type: 'custom', xAxisIndex: 2, yAxisIndex: 3, data: [chr10Centromere], encode: { x: [0, 1] }, silent: true,
      renderItem: (params, api) => {
        const sys = params.coordSys
        const a = api.coord([api.value(0), 0])[0]
        const b = api.coord([api.value(1), 0])[0]
        const m = (a + b) / 2
        const t = sys.y + 1
        const d = sys.y + sys.height - 1
        return { type: 'polygon', shape: { points: [[a, t], [m, (t + d) / 2], [b, t], [b, d], [m, (t + d) / 2], [a, d]] }, style: { fill: '#b00000' } }
      }
    },
    ...cnvSeries({ x: 5, y: 7 }, baselineBands, baselineMeans, baselinePoints, baselineEdges),
    ...cnvSeries({ x: 6, y: 8 }, relapseBands, relapseMeans, relapsePoints, relapseEdges)
  ]
}

let dom = document.getElementById('chart-container')
let myChart = echarts.init(dom, null, { renderer: 'canvas', useDirtyRect: false })
myChart.setOption(option)
window.addEventListener('resize', myChart.resize)
</script>
</body>
</html>
